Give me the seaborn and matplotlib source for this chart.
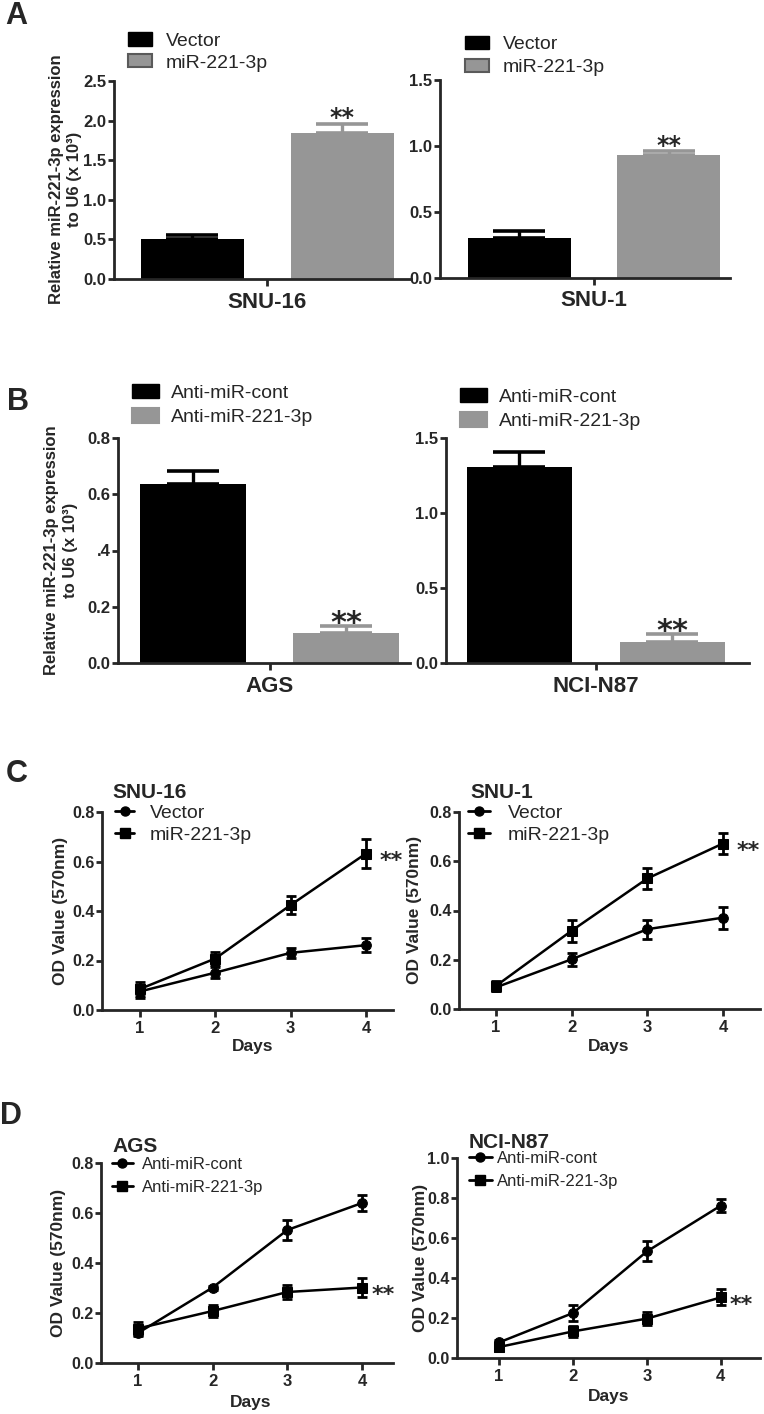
import numpy as np
import pandas as pd
import matplotlib
matplotlib.use('Agg')
import matplotlib.pyplot as plt
import seaborn as sns
from matplotlib.patches import Patch
from matplotlib.lines import Line2D

# ---- data ----
# panel A: qRT-PCR after miR-221-3p overexpression
a_groups = ['Vector', 'miR-221-3p']
a_snu16_mean = [0.50, 1.84]
a_snu16_err = [0.055, 0.12]
a_snu1_mean = [0.305, 0.93]
a_snu1_err = [0.05, 0.03]

# panel B: qRT-PCR after knockdown
b_groups = ['Anti-miR-cont', 'Anti-miR-221-3p']
b_ags_mean = [0.638, 0.107]
b_ags_err = [0.043, 0.025]
b_n87_mean = [1.307, 0.14]
b_n87_err = [0.10, 0.053]

# panels C and D: MTT growth curves
days = [1, 2, 3, 4]
c_snu16_vec = [0.075, 0.151, 0.231, 0.262]
c_snu16_vec_err = [0.025, 0.022, 0.02, 0.027]
c_snu16_mir = [0.085, 0.208, 0.424, 0.632]
c_snu16_mir_err = [0.03, 0.025, 0.038, 0.057]
c_snu1_vec = [0.088, 0.202, 0.324, 0.371]
c_snu1_vec_err = [0.015, 0.026, 0.038, 0.045]
c_snu1_mir = [0.094, 0.318, 0.53, 0.672]
c_snu1_mir_err = [0.02, 0.045, 0.044, 0.044]

d_ags_cont = [0.12, 0.302, 0.532, 0.64]
d_ags_cont_err = [0.01, 0.008, 0.04, 0.031]
d_ags_anti = [0.138, 0.208, 0.284, 0.302]
d_ags_anti_err = [0.025, 0.023, 0.027, 0.038]
d_n87_cont = [0.078, 0.225, 0.533, 0.762]
d_n87_cont_err = [0.012, 0.038, 0.05, 0.033]
d_n87_anti = [0.055, 0.133, 0.197, 0.303]
d_n87_anti_err = [0.022, 0.028, 0.033, 0.04]

BLACK = '#000000'
GRAY = '#969696'

sns.set_style('ticks')
plt.rcParams['font.family'] = ['Liberation Sans', 'DejaVu Sans']
plt.rcParams['font.weight'] = 'bold'
plt.rcParams['axes.linewidth'] = 2

W, H = 764, 1414
fig = plt.figure(figsize=(W / 100, H / 100), dpi=100)


def add_ax(x0, y_top, x1, y_bot):
    # axes placed in figure pixels (top-left origin)
    return fig.add_axes([x0 / W, 1 - y_bot / H, (x1 - x0) / W, (y_bot - y_top) / H])


def ftext(x, y, s, **kw):
    fig.text(x / W, 1 - y / H, s, **kw)


def style_ax(ax, ysize=12):
    sns.despine(ax=ax)
    for sp in ['left', 'bottom']:
        ax.spines[sp].set_linewidth(2)
    ax.tick_params(axis='y', length=4, width=2, pad=1.5, labelsize=ysize)


def bar_panel(ax, line, groups, means, errs, xlim, ylim, yticks, ylabels, star_fs, star_dy):
    df = pd.DataFrame({'line': line, 'group': groups, 'value': means})
    sns.barplot(data=df, x='line', y='value', hue='group', palette=[BLACK, GRAY],
                width=0.8, gap=0.31, errorbar=None, legend=False, ax=ax)
    bars = [p for p in ax.patches][:len(groups)]
    for bar, m, e, c in zip(bars, means, errs, [BLACK, GRAY]):
        bar.set_edgecolor('none')
        xc = bar.get_x() + bar.get_width() / 2
        ax.errorbar(xc, m, yerr=[[0], [e]], fmt='none', ecolor=c, elinewidth=2.4,
                    capsize=18.5, capthick=2.6, zorder=1)
    # significance over the treated bar
    xc = bars[1].get_x() + bars[1].get_width() / 2
    ax.annotate('**', xy=(xc, means[1] + errs[1]), xytext=(0, star_dy),
                textcoords='offset points', ha='center', va='baseline',
                fontsize=star_fs, fontweight='bold', family='DejaVu Sans')
    ax.set_xlim(*xlim)
    ax.set_ylim(*ylim)
    ax.set_yticks(yticks)
    ax.set_yticklabels(ylabels)
    ax.set_xlabel('')
    ax.set_ylabel('')
    style_ax(ax)
    ax.tick_params(axis='x', length=5, width=2, pad=4, labelsize=16)


def bar_legend(ax, labels, x, y, gray_edge, hl, hh, pad, spacing):
    handles = [Patch(facecolor=BLACK, edgecolor=BLACK),
               Patch(facecolor=GRAY, edgecolor=gray_edge, linewidth=1.5)]
    ax.legend(handles, labels, loc='center left', bbox_to_anchor=(x / W, 1 - y / H),
              bbox_transform=fig.transFigure, frameon=False, borderpad=0, borderaxespad=0,
              handlelength=hl, handleheight=hh, handletextpad=pad, labelspacing=spacing,
              prop={'size': 14, 'weight': 'normal'})


def line_panel(ax, labels, y1, e1, y2, e2, xlim, ylim, yticks, star_dx, star_fs=16):
    df = pd.DataFrame({'day': days * 2, 'od': y1 + y2,
                       'group': [labels[0]] * len(days) + [labels[1]] * len(days)})
    sns.lineplot(data=df, x='day', y='od', style='group', markers=['o', 's'], dashes=False,
                 color=BLACK, linewidth=1.8, markersize=7, markeredgecolor=BLACK,
                 errorbar=None, legend=False, ax=ax)
    for vals, errs in [(y1, e1), (y2, e2)]:
        ax.errorbar(days, vals, yerr=errs, fmt='none', ecolor=BLACK, elinewidth=2,
                    capsize=3.5, capthick=2)
    ax.annotate('**', xy=(days[-1], y2[-1]), xytext=(star_dx, -0.6 * star_fs),
                textcoords='offset points', ha='left', va='baseline',
                fontsize=star_fs, fontweight='bold', family='DejaVu Sans')
    ax.set_xlim(*xlim)
    ax.set_ylim(*ylim)
    ax.set_xticks(days)
    ax.set_yticks(yticks)
    ax.set_yticklabels([f'{t:.1f}' for t in yticks])
    ax.set_xlabel('')
    ax.set_ylabel('')
    style_ax(ax, 11.5)
    ax.tick_params(axis='x', length=5, width=2, pad=3, labelsize=12)


def line_legend(ax, labels, x, y, fs, hl, pad, spacing):
    handles = [Line2D([], [], color=BLACK, lw=2, marker='o', markersize=6.5),
               Line2D([], [], color=BLACK, lw=2, marker='s', markersize=6.5)]
    ax.legend(handles, labels, loc='center left', bbox_to_anchor=(x / W, 1 - y / H),
              bbox_transform=fig.transFigure, frameon=False, borderpad=0, borderaxespad=0,
              handlelength=hl, handletextpad=pad, labelspacing=spacing,
              prop={'size': fs, 'weight': 'normal'})


# ---- panel A ----
ax = add_ax(114, 81, 411, 279)
bar_panel(ax, 'SNU-16', a_groups, a_snu16_mean, a_snu16_err, (-0.409, 0.383), (0, 2.5),
          np.arange(0, 2.6, 0.5), ['0.0', '0.5', '1.0', '1.5', '2.0', '2.5'], 17, -1)
bar_legend(ax, a_groups, 128, 52, '#5a5a5a', 1.24, 0.67, 0.72, 0.22)

ax = add_ax(440, 80, 730, 278)
bar_panel(ax, 'SNU-1', a_groups, a_snu1_mean, a_snu1_err, (-0.412, 0.364), (0, 1.5),
          [0, 0.5, 1.0, 1.5], ['0.0', '0.5', '1.0', '1.5'], 17, -1)
bar_legend(ax, a_groups, 465, 56, '#5a5a5a', 1.24, 0.67, 0.72, 0.3)

ftext(66, 179, 'Relative miR-221-3p expression\nto U6 (x 10³)', rotation=90,
      ha='center', va='center', fontsize=12, fontweight='bold', linespacing=1.25)

# ---- panel B ----
ax = add_ax(118, 438, 410, 663)
bar_panel(ax, 'AGS', b_groups, b_ags_mean, b_ags_err, (-0.396, 0.367), (0, 0.8),
          [0, 0.2, 0.4, 0.6, 0.8], ['0.0', '0.2', '.4', '0.6', '0.8'], 22, -4.5)
bar_legend(ax, b_groups, 132, 405, GRAY, 1.4, 0.77, 0.62, 0.35)

ax = add_ax(446, 438, 749, 663)
bar_panel(ax, 'NCI-N87', b_groups, b_n87_mean, b_n87_err, (-0.392, 0.4), (0, 1.5),
          [0, 0.5, 1.0, 1.5], ['0.0', '0.5', '1.0', '1.5'], 22, -4.5)
bar_legend(ax, b_groups, 460, 409, GRAY, 1.4, 0.77, 0.62, 0.35)

ftext(61, 550, 'Relative miR-221-3p expression\nto U6 (x 10³)', rotation=90,
      ha='center', va='center', fontsize=12, fontweight='bold', linespacing=1.25)

# ---- panel C ----
c_labels = ['Vector', 'miR-221-3p']
ax = add_ax(102, 812, 393, 1010)
line_panel(ax, c_labels, c_snu16_vec, c_snu16_vec_err, c_snu16_mir, c_snu16_mir_err,
           (0.495, 4.36), (0, 0.8), [0, 0.2, 0.4, 0.6, 0.8], 10)
line_legend(ax, c_labels, 115, 824, 14, 1.0, 0.77, 0.25)
ftext(112, 792, 'SNU-16', ha='left', va='center', fontsize=15, fontweight='bold')
ftext(61, 911, 'OD Value (570nm)', rotation=90, ha='center', va='center', fontsize=12.5)
ftext(253, 1047, 'Days', ha='center', va='center', fontsize=12.5)

ax = add_ax(459, 812, 760, 1009)
line_panel(ax, c_labels, c_snu1_vec, c_snu1_vec_err, c_snu1_mir, c_snu1_mir_err,
           (0.51, 4.49), (0, 0.8), [0, 0.2, 0.4, 0.6, 0.8], 10)
line_legend(ax, c_labels, 468, 824, 14, 1.13, 0.93, 0.25)
ftext(470, 792, 'SNU-1', ha='left', va='center', fontsize=15, fontweight='bold')
ftext(415, 910, 'OD Value (570nm)', rotation=90, ha='center', va='center', fontsize=12.5)
ftext(609, 1047, 'Days', ha='center', va='center', fontsize=12.5)

# ---- panel D ----
d_labels = ['Anti-miR-cont', 'Anti-miR-221-3p']
ax = add_ax(101, 1163, 393, 1363)
line_panel(ax, d_labels, d_ags_cont, d_ags_cont_err, d_ags_anti, d_ags_anti_err,
           (0.505, 4.415), (0, 0.8), [0, 0.2, 0.4, 0.6, 0.8], 7)
line_legend(ax, d_labels, 112, 1176, 12, 1.25, 0.55, 0.45)
ftext(112, 1146, 'AGS', ha='left', va='center', fontsize=15, fontweight='bold')
ftext(58, 1263, 'OD Value (570nm)', rotation=90, ha='center', va='center', fontsize=12.5)
ftext(251, 1403, 'Days', ha='center', va='center', fontsize=12.5)

ax = add_ax(457, 1158, 760, 1358)
line_panel(ax, d_labels, d_n87_cont, d_n87_cont_err, d_n87_anti, d_n87_anti_err,
           (0.43, 4.53), (0, 1.0), [0, 0.2, 0.4, 0.6, 0.8, 1.0], 6.5)
line_legend(ax, d_labels, 469, 1170, 12, 1.35, 0.3, 0.45)
ftext(469, 1142, 'NCI-N87', ha='left', va='center', fontsize=15, fontweight='bold')
ftext(421, 1258, 'OD Value (570nm)', rotation=90, ha='center', va='center', fontsize=12.5)
ftext(609, 1397, 'Days', ha='center', va='center', fontsize=12.5)

# panel letters
for letter, (x, y) in {'A': (16, 16), 'B': (18, 402), 'C': (17, 774), 'D': (11, 1116)}.items():
    ftext(x, y, letter, ha='center', va='center', fontsize=22, fontweight='bold')

fig.savefig('out.png', dpi=100)
